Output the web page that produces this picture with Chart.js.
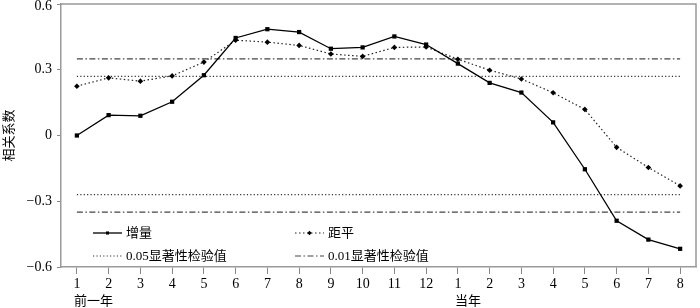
<!DOCTYPE html>
<html><head><meta charset="utf-8">
<script src="https://cdn.jsdelivr.net/npm/chart.js@4/dist/chart.umd.min.js"></script>
<style>html,body{margin:0;padding:0;background:#fff}</style>
</head><body>
<canvas id="c" width="700" height="308"></canvas>
<script>
const categories = ["1","2","3","4","5","6","7","8","9","10","11","12","1","2","3","4","5","6","7","8"];
const groupLabels = [{index:0,text:"前一年"},{index:12,text:"当年"}];
const increment = [0.0,0.093,0.09,0.154,0.275,0.445,0.485,0.472,0.396,0.402,0.452,0.415,0.328,0.24,0.196,0.06,-0.154,-0.389,-0.475,-0.517];
const anomaly = [0.225,0.263,0.248,0.272,0.335,0.435,0.426,0.411,0.372,0.361,0.402,0.404,0.348,0.298,0.258,0.195,0.119,-0.054,-0.146,-0.23];
const sig05 = 0.27;
const sig01 = 0.35;
const yTicks = [-0.6,-0.3,0,0.3,0.6];
const seriesNames = ["增量","距平","0.05显著性检验值","0.01显著性检验值"];
const yTitle = "相关系数";

const serif = "'Liberation Serif','Noto Sans CJK SC',serif";
const const_ = v => categories.map(() => v);
const fmt = v => v===0 ? '0' : (v<0 ? '\u2212'+Math.abs(v).toFixed(1) : v.toFixed(1));
const yMax = Math.max(...yTicks);

const ds = [
  {label:seriesNames[0], data:increment, borderColor:'#000', backgroundColor:'#000', borderWidth:1.3,
   pointStyle:'rect', pointRadius:3, pointBackgroundColor:'#000', pointBorderWidth:0, tension:0},
  {label:seriesNames[1], data:anomaly, borderColor:'#222', backgroundColor:'#000', borderWidth:1.2, borderDash:[1.5,2.5],
   pointStyle:'rectRot', pointRadius:2.8, pointBackgroundColor:'#000', pointBorderWidth:0, tension:0},
  {label:seriesNames[2], data:const_(sig05), borderColor:'#333', borderWidth:1.2, borderDash:[1.2,2.2], pointRadius:0},
  {label:'neg05', data:const_(-sig05), borderColor:'#333', borderWidth:1.2, borderDash:[1.2,2.2], pointRadius:0},
  {label:seriesNames[3], data:const_(sig01), borderColor:'#444', borderWidth:1.2, borderDash:[6,2.5,1.5,2.5], pointRadius:0},
  {label:'neg01', data:const_(-sig01), borderColor:'#444', borderWidth:1.2, borderDash:[6,2.5,1.5,2.5], pointRadius:0},
];
ds.forEach((d,i)=>{ d.order = i<2 ? 0 : 1; });

const framePlugin = {
  id:'frame',
  afterDraw(chart){
    const {ctx, chartArea:a, scales} = chart;
    ctx.save();
    ctx.strokeStyle = '#999'; ctx.lineWidth = 1.5;
    ctx.beginPath(); ctx.moveTo(a.left, a.top); ctx.lineTo(a.right, a.top); ctx.lineTo(a.right, a.bottom); ctx.stroke();
    // top y tick label, kept inside canvas
    ctx.fillStyle = '#000'; ctx.font = "14px " + serif; ctx.textAlign='right'; ctx.textBaseline='middle';
    ctx.fillText(fmt(yMax), a.left - 9, Math.max(scales.y.getPixelForValue(yMax), 6));
    ctx.font = "13px " + serif; ctx.textAlign='left';
    groupLabels.forEach(g => {
      const x = scales.x.getPixelForValue(g.index);
      ctx.fillText(g.text, x - 3, 302);
    });
    const items = [
      {d:ds[0], x:93, y:233},
      {d:ds[1], x:295, y:233},
      {d:ds[2], x:93, y:256},
      {d:ds[4], x:295, y:256},
    ];
    items.forEach(it => {
      const d = it.d;
      ctx.strokeStyle = d.borderColor; ctx.lineWidth = d.borderWidth;
      ctx.setLineDash(d.borderDash || []);
      ctx.beginPath(); ctx.moveTo(it.x, it.y); ctx.lineTo(it.x+29, it.y); ctx.stroke();
      ctx.setLineDash([]);
      if (d.pointRadius > 0) {
        ctx.fillStyle = '#000';
        Chart.helpers.drawPoint(ctx, {pointStyle:d.pointStyle, radius:2.2, borderWidth:0}, it.x+14.5, it.y);
      }
      ctx.fillStyle = '#000'; ctx.font = "13px " + serif; ctx.textAlign='left'; ctx.textBaseline='middle';
      ctx.fillText(d.label, it.x+33, it.y+1);
    });
    ctx.restore();
  }
};

new Chart(document.getElementById('c'), {
  type:'line',
  data:{labels:categories, datasets:ds},
  options:{
    responsive:false, animation:false,
    layout:{padding:{top:3, right:1, left:0, bottom:0}},
    plugins:{legend:{display:false}, tooltip:{enabled:false}},
    scales:{
      x:{
        offset:true,
        grid:{display:true, drawOnChartArea:false, drawTicks:true, tickLength:7, color:'#888', lineWidth:1, offset:false},
        border:{display:true, color:'#999', width:1.5},
        ticks:{color:'#000', font:{family:serif, size:14}, padding:2, maxRotation:0, autoSkip:false},
        afterFit(s){ s.height = 308 - 267; }
      },
      y:{
        min:-0.6, max:0.6,
        afterBuildTicks(s){ s.ticks = yTicks.map(v=>({value:v})); },
        grid:{display:true, drawOnChartArea:false, drawTicks:true, tickLength:4, color:'#888'},
        border:{display:true, color:'#999', width:1.5},
        ticks:{font:{family:serif, size:14}, padding:5,
          color:c => (c.tick && c.tick.value === yMax) ? 'rgba(0,0,0,0)' : '#000',
          callback:v => fmt(v)},
        title:{display:true, text:yTitle, color:'#000', font:{family:"'Noto Sans CJK SC',sans-serif", size:13}, padding:{top:0,bottom:0}},
        afterFit(s){ s.width = 61; s.paddingTop = 0; s.paddingBottom = 0; }
      }
    }
  },
  plugins:[framePlugin]
});
</script>
</body></html>
